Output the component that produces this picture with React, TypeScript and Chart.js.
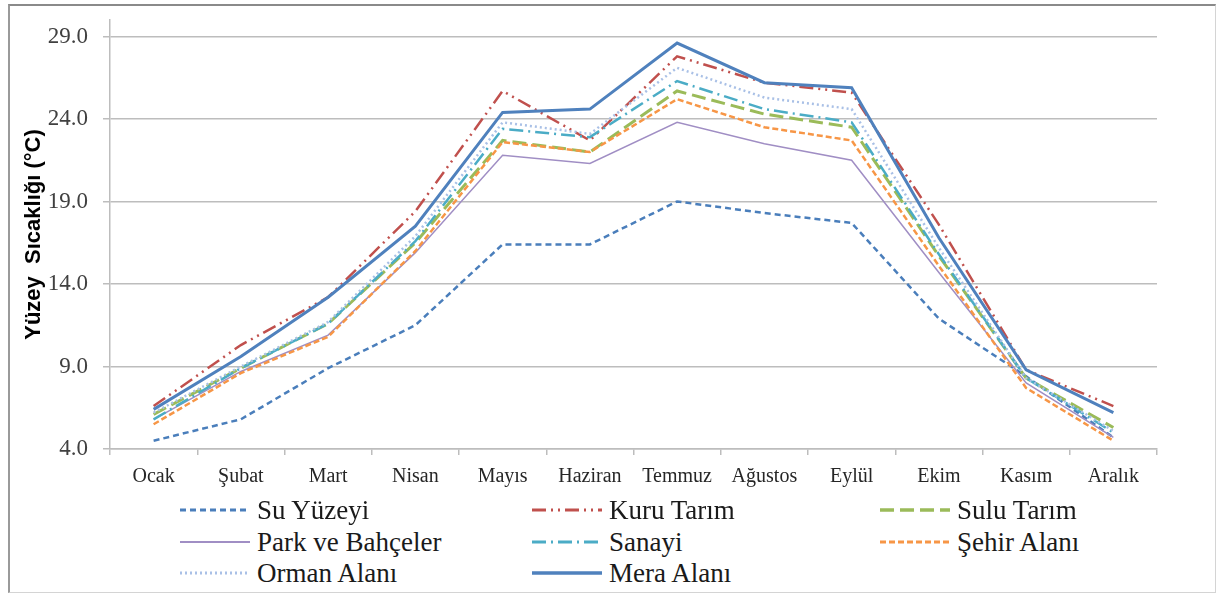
import React, { useEffect, useRef } from "react";
import { Chart, registerables } from "chart.js";

Chart.register(...registerables);

const months = ["Ocak", "Şubat", "Mart", "Nisan", "Mayıs", "Haziran", "Temmuz", "Ağustos", "Eylül", "Ekim", "Kasım", "Aralık"];
const yTicks = [4, 9, 14, 19, 24, 29];

const suYuzeyi = [4.5, 5.8, 8.9, 11.5, 16.4, 16.4, 19.0, 18.3, 17.7, 11.9, 8.4, 4.7];
const kuruTarim = [6.6, 10.3, 13.2, 18.4, 25.7, 22.7, 27.8, 26.2, 25.6, 17.6, 8.8, 6.6];
const suluTarim = [6.1, 8.9, 11.6, 16.5, 22.7, 22.0, 25.7, 24.3, 23.5, 15.7, 8.3, 5.3];
const parkBahce = [5.8, 8.7, 10.9, 15.9, 21.8, 21.3, 23.8, 22.5, 21.5, 14.7, 8.0, 4.7];
const sanayi = [5.8, 8.9, 11.6, 16.6, 23.4, 22.9, 26.3, 24.6, 23.8, 15.8, 8.3, 5.0];
const sehirAlani = [5.5, 8.6, 10.8, 16.0, 22.6, 22.0, 25.2, 23.5, 22.7, 15.1, 7.7, 4.5];
const ormanAlani = [6.2, 9.0, 11.7, 16.9, 23.8, 23.1, 27.1, 25.3, 24.6, 16.2, 8.3, 5.1];
const meraAlani = [6.4, 9.6, 13.2, 17.5, 24.4, 24.6, 28.6, 26.2, 25.9, 16.8, 8.8, 6.2];

const seriesNames = ["Su Yüzeyi", "Kuru Tarım", "Sulu Tarım", "Park ve Bahçeler", "Sanayi", "Şehir Alanı", "Orman Alanı", "Mera Alanı"];
const seriesValues = [suYuzeyi, kuruTarim, suluTarim, parkBahce, sanayi, sehirAlani, ormanAlani, meraAlani];
const seriesColors = ["#4a7ebb", "#c0504d", "#9bbb59", "#a08ec4", "#4bacc6", "#f79646", "#a9c0e6", "#4f81bd"];
const seriesDash = [[6, 4], [14, 5, 2, 5, 2, 5], [14, 6], [], [14, 5, 2, 5], [6, 3], [2, 3], []];
const seriesWidth = [2.5, 2.5, 3, 1.5, 2.5, 2.5, 2.5, 3];

const legendCols = [180, 532, 880];
const legendRows = [510, 542, 573];

export default function App() {
  const canvasRef = useRef<HTMLCanvasElement | null>(null);

  useEffect(() => {
    const canvas = canvasRef.current;
    if (!canvas) return;
    const chart = new Chart(canvas, {
      type: "line",
      data: {
        labels: months,
        datasets: seriesNames.map((name, i) => ({
          label: name,
          data: seriesValues[i],
          borderColor: seriesColors[i],
          backgroundColor: seriesColors[i],
          borderDash: seriesDash[i],
          borderWidth: seriesWidth[i],
          pointRadius: 0,
          tension: 0,
          fill: false,
          order: seriesNames.length - 1 - i,
        })),
      },
      options: {
        responsive: false,
        animation: false,
        layout: { padding: { top: 20, right: 62, left: 0, bottom: 0 } },
        plugins: {
          legend: { display: false },
          tooltip: { enabled: false },
        },
        scales: {
          x: {
            offset: true,
            grid: {
              offset: true,
              drawOnChartArea: false,
              drawTicks: true,
              tickLength: 6,
              color: "#bdbdbd",
              lineWidth: 1.5,
            },
            border: { color: "#bdbdbd", width: 1.5 },
            ticks: {
              color: "#262626",
              padding: 10,
              font: { family: "'Liberation Serif', serif", size: 20 },
              maxRotation: 0,
              autoSkip: false,
            },
            afterFit: (s: any) => {
              s.height = 51;
              s.paddingLeft = 0;
              s.paddingRight = 0;
            },
          },
          y: {
            min: 4,
            max: 30,
            afterBuildTicks: (s: any) => {
              s.ticks = yTicks.map((v) => ({ value: v }));
            },
            afterFit: (s: any) => {
              s.width = 110;
              s.paddingTop = 0;
              s.paddingBottom = 0;
            },
            grid: {
              color: "#bdbdbd",
              lineWidth: 1.5,
              tickLength: 7,
            },
            border: { color: "#bdbdbd", width: 1.5 },
            ticks: {
              color: "#404040",
              padding: 15,
              font: { family: "'Liberation Serif', serif", size: 23 },
              callback: (v: any) => Number(v).toFixed(1),
            },
            title: {
              display: true,
              text: "Yüzey  Sıcaklığı (°C)",
              color: "#000",
              font: { family: "'Liberation Sans', sans-serif", size: 22, weight: "bold" },
              padding: { top: 21, bottom: 0 },
            },
          },
        },
      },
    });
    return () => chart.destroy();
  }, []);

  return (
    <div style={{ position: "absolute", left: 0, top: 0, width: 1219, height: 596, background: "#fff" }}>
      <div
        style={{
          position: "absolute",
          left: 8,
          top: 4,
          width: 1208,
          height: 589,
          borderTop: "2px solid #8a8a8a",
          borderLeft: "2px solid #9a9a9a",
          borderRight: "1px solid #d4d4d4",
          borderBottom: "1px solid #d4d4d4",
          boxSizing: "border-box",
        }}
      />
      <canvas
        ref={canvasRef}
        width={1219}
        height={500}
        style={{ position: "absolute", left: 0, top: 0, width: 1219, height: 500 }}
      />
      {seriesNames.map((name, i) => {
        const col = i % 3;
        const row = Math.floor(i / 3);
        return (
          <div
            key={name}
            style={{
              position: "absolute",
              left: legendCols[col],
              top: legendRows[row] - 16,
              height: 32,
              display: "flex",
              alignItems: "center",
              whiteSpace: "nowrap",
              fontFamily: "'Liberation Serif', serif",
              fontSize: 27,
              color: "#1a1a1a",
            }}
          >
            <svg width={70} height={10} style={{ marginRight: 7 }}>
              <line
                x1={0}
                y1={5}
                x2={70}
                y2={5}
                stroke={seriesColors[i]}
                strokeWidth={seriesWidth[i] + 0.5}
                strokeDasharray={seriesDash[i].length ? seriesDash[i].join(",") : undefined}
              />
            </svg>
            <span>{name}</span>
          </div>
        );
      })}
    </div>
  );
}
